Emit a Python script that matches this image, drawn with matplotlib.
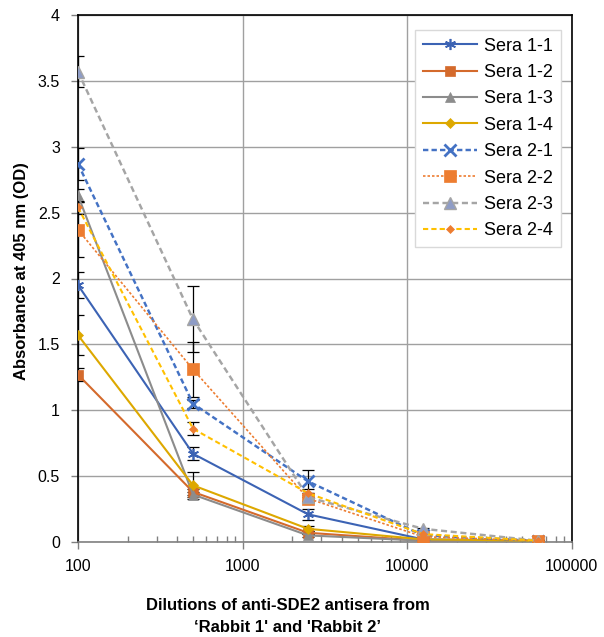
import numpy as np
import matplotlib
matplotlib.use("Agg")
from matplotlib import pyplot as plt
from matplotlib.ticker import FixedLocator, NullFormatter, FuncFormatter

plt.rcParams['font.family'] = ['Liberation Sans', 'DejaVu Sans']

# dilution factors
dilutions = [100, 500, 2500, 12500, 62500]

# absorbance values (OD 405 nm)
sera_1_1 = [1.95, 0.67, 0.21, 0.02, 0.01]
sera_1_2 = [1.27, 0.38, 0.07, 0.01, 0.005]
sera_1_3 = [2.63, 0.36, 0.05, 0.01, 0.005]
sera_1_4 = [1.57, 0.43, 0.10, 0.02, 0.01]
sera_2_1 = [2.87, 1.05, 0.46, 0.05, 0.01]
sera_2_2 = [2.37, 1.31, 0.33, 0.04, 0.01]
sera_2_3 = [3.57, 1.69, 0.34, 0.10, 0.01]
sera_2_4 = [2.54, 0.86, 0.37, 0.06, 0.01]

# error bars
err_1_1 = [0.10, 0.05, 0.04, 0.01, 0.005]
err_1_2 = [0.05, 0.02, 0.01, 0.005, 0.005]
err_1_3 = [0.05, 0.02, 0.01, 0.005, 0.005]
err_1_4 = [0.15, 0.10, 0.02, 0.005, 0.005]
err_2_1 = [0.12, 0.03, 0.09, 0.01, 0.005]
err_2_2 = [0.21, 0.21, 0.03, 0.01, 0.005]
err_2_3 = [0.12, 0.25, 0.03, 0.01, 0.005]
err_2_4 = [0.05, 0.05, 0.03, 0.01, 0.005]

labels = ["Sera 1-1", "Sera 1-2", "Sera 1-3", "Sera 1-4",
          "Sera 2-1", "Sera 2-2", "Sera 2-3", "Sera 2-4"]
values = [sera_1_1, sera_1_2, sera_1_3, sera_1_4,
          sera_2_1, sera_2_2, sera_2_3, sera_2_4]
errors = [err_1_1, err_1_2, err_1_3, err_1_4,
          err_2_1, err_2_2, err_2_3, err_2_4]

y_ticks = [0, 0.5, 1, 1.5, 2, 2.5, 3, 3.5, 4]
x_ticks = [100, 1000, 10000, 100000]

# line / marker styles per series
styles = [
    dict(color='#3C63B4', ls='-', lw=1.5, marker=(6, 2, 0), ms=8, mfc='#3C63B4', mec='#3C63B4', mew=1.2),
    dict(color='#D46A2C', ls='-', lw=1.5, marker='s', ms=6.5, mfc='#D46A2C', mec='#D46A2C', mew=0.5),
    dict(color='#8C8C8C', ls='-', lw=1.5, marker='^', ms=7, mfc='#8C8C8C', mec='#8C8C8C', mew=0.5),
    dict(color='#DDA800', ls='-', lw=1.5, marker='D', ms=5.5, mfc='#DDA800', mec='#DDA800', mew=0.5),
    dict(color='#4472C4', ls=(0, (2.2, 1.3)), lw=1.75, marker='x', ms=8, mfc='#4472C4', mec='#4472C4', mew=2),
    dict(color='#ED7D31', ls=(0, (1.5, 1.2)), lw=1.2, marker='s', ms=9, mfc='#ED7D31', mec='#ED7D31', mew=0.5),
    dict(color='#A5A5A5', ls=(0, (2.5, 1.5)), lw=1.75, marker='^', ms=8, mfc='#8E9CC6', mec='#A5A5A5', mew=1),
    dict(color='#FFC000', ls=(0, (2.5, 1.5)), lw=1.5, marker='D', ms=4.5, mfc='#ED7D31', mec='#ED7D31', mew=0.5),
]

fig = plt.figure(figsize=(6.04, 6.37), dpi=100)
ax = fig.add_axes([78 / 604, 95 / 637, 493.7 / 604, 527 / 637])

for lbl, vals, errs, st in zip(labels, values, errors, styles):
    ax.errorbar(dilutions, vals, yerr=errs, fmt='none', ecolor='black',
                elinewidth=0.9, capsize=4, capthick=0.9, zorder=2)
    ax.plot(dilutions, vals, label=lbl, zorder=3, **st)

ax.set_xscale('log')
ax.set_xlim(100, 100000)
ax.set_ylim(0, 4)

ax.set_yticks(y_ticks)
ax.yaxis.set_major_formatter(FuncFormatter(lambda v, p: f"{v:g}"))
ax.xaxis.set_major_locator(FixedLocator(x_ticks))
ax.xaxis.set_major_formatter(FuncFormatter(lambda v, p: f"{int(v)}"))
minor = [m * 10 ** e for e in range(2, 5) for m in range(2, 10)]
ax.xaxis.set_minor_locator(FixedLocator(minor))
ax.xaxis.set_minor_formatter(NullFormatter())

ax.grid(True, which='major', color='#A0A0A0', lw=1.0, zorder=0)
ax.set_axisbelow(True)

ax.tick_params(axis='both', which='major', labelsize=11.5, colors='#808080',
               labelcolor='black', length=5, width=1, direction='out')
ax.tick_params(axis='x', which='major', pad=7)
ax.tick_params(axis='x', which='minor', direction='in', length=4, width=1, colors='#808080')
ax.tick_params(axis='y', which='major', pad=8)

for side in ['top', 'right', 'left']:
    ax.spines[side].set_color('black')
    ax.spines[side].set_linewidth(1.2)
ax.spines['bottom'].set_color('#808080')
ax.spines['bottom'].set_linewidth(1.2)

ax.set_ylabel("Absorbance at 405 nm (OD)", fontsize=12, fontweight='bold')
ax.yaxis.set_label_coords(-0.1, 0.515)
ax.set_xlabel("Dilutions of anti-SDE2 antisera from\n\u2018Rabbit 1' and 'Rabbit 2\u2019",
              fontsize=12, fontweight='bold', linespacing=1.6)
ax.xaxis.set_label_coords((288 - 78) / 493.7, -0.106)
ax.xaxis.label.set_va('top')

leg = ax.legend(loc='upper right', bbox_to_anchor=(0.978, 0.9715), borderaxespad=0,
                fontsize=13, handlelength=3.0, labelspacing=0.52, borderpad=0.42,
                handletextpad=0.4, fancybox=False, framealpha=1, edgecolor='#D9D9D9')
leg.get_frame().set_linewidth(1)

fig.savefig("out.png", dpi=100)
